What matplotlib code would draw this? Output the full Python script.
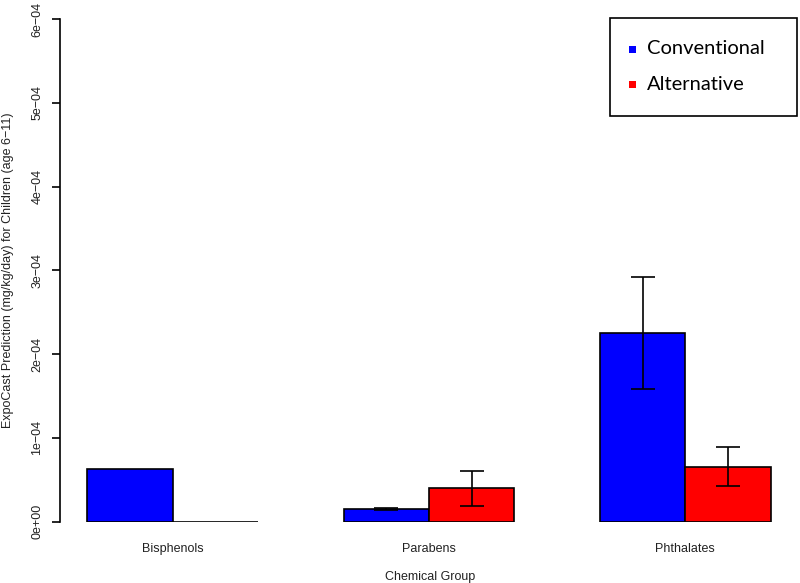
import matplotlib.pyplot as plt
from matplotlib.patches import Rectangle
import numpy as np

groups = ["Bisphenols", "Parabens", "Phthalates"]
series = ["Conventional", "Alternative"]
conventional = [6.3e-05, 1.5e-05, 2.255e-04]
conventional_err = [0.0, 0.1e-05, 0.67e-04]
alternative = [0.0, 3.98e-05, 6.56e-05]
alternative_err = [0.0, 2.05e-05, 2.3e-05]
colors = ["#0000FF", "#FF0000"]
yticks = [0, 1e-4, 2e-4, 3e-4, 4e-4, 5e-4, 6e-4]
ytick_labels = ["0e+00", "1e\u221204", "2e\u221204", "3e\u221204", "4e\u221204", "5e\u221204", "6e\u221204"]

plt.rcParams['font.family'] = ['Liberation Sans', 'DejaVu Sans']

fig = plt.figure(figsize=(8, 5.83), dpi=100)
W, H = 800, 583
# plot region in pixels: x 60..798, y 19..521.7 (top..bottom)
ax = fig.add_axes([60 / W, (H - 521.7) / H, 738 / W, 502.7 / H])

# R-style barplot positions: bars width 1, space 1 between groups
x = np.arange(len(groups)) * 3 + 1.0
ax.bar(x, conventional, width=1, align='edge', color=colors[0], edgecolor='black', linewidth=1.2)
ax.bar(x + 1, alternative, width=1, align='edge', color=colors[1], edgecolor='black', linewidth=1.2)

for xs, vals, errs in [(x + 0.5, conventional, conventional_err), (x + 1.5, alternative, alternative_err)]:
    for xi, v, e in zip(xs, vals, errs):
        if e > 0:
            ax.errorbar(xi, v, yerr=e, color='black', capsize=8.5, elinewidth=1.2,
                        capthick=1.2, clip_on=False)

ax.set_xlim(0.68, 9.32)
ax.set_ylim(0, 6e-4)
for s in ['top', 'right', 'bottom']:
    ax.spines[s].set_visible(False)
ax.spines['left'].set_linewidth(1.2)

ax.set_yticks(yticks)
ax.set_yticklabels(ytick_labels, rotation=90, va='center', fontsize=9, color='#222222')
ax.tick_params(axis='y', length=6, width=1.2, pad=6)
ax.set_xticks(x + 1)
ax.set_xticklabels(groups, fontsize=9, color='#222222')
ax.tick_params(axis='x', length=0, pad=15)

fig.text(430 / W, 1 - 577 / H, "Chemical Group", ha='center', va='center', fontsize=9, color='#222222')
fig.text(8 / W, 1 - 270 / H, "ExpoCast Prediction (mg/kg/day) for Children (age 6\u221211)",
         rotation=90, ha='center', va='center', fontsize=9, color='#222222')

# legend box
fig.patches.append(Rectangle((610 / W, 1 - 116 / H), 187 / W, 98 / H, transform=fig.transFigure,
                             facecolor='white', edgecolor='black', linewidth=1.2))
for lab, c, yy in zip(series, colors, [49, 84]):
    fig.patches.append(Rectangle(((632 - 3.5) / W, 1 - (yy + 3.5) / H), 7 / W, 7 / H,
                                 transform=fig.transFigure, facecolor=c, edgecolor='none'))
    fig.text(647 / W, 1 - yy / H, lab, ha='left', va='center', fontsize=14.5,
             family=['Lato', 'DejaVu Sans'])

fig.savefig("out.png", dpi=100)
